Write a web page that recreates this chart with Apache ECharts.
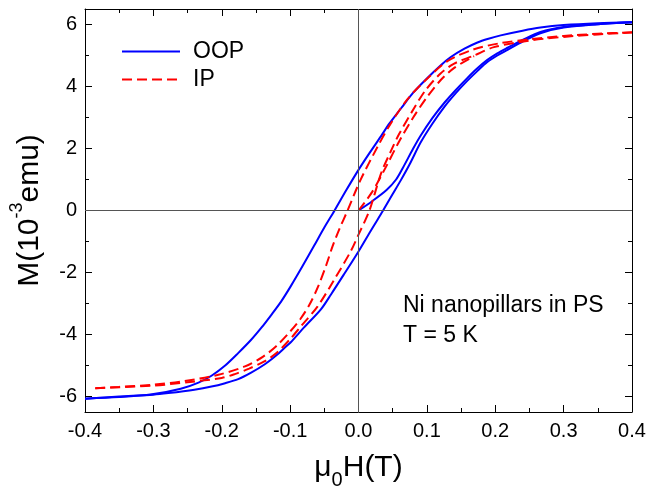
<!DOCTYPE html>
<html>
<head>
<meta charset="utf-8">
<script src="https://cdn.jsdelivr.net/npm/echarts@6/dist/echarts.min.js"></script>
<style>
  html, body { margin: 0; padding: 0; background: #fff; }
  #chart { width: 649px; height: 495px; }
</style>
</head>
<body>
<div id="chart"></div>
<script>
// field (T) / moment (1e-3 emu)
const oopDown = [[0.4,6.07],[0.35,6.04],[0.3,5.98],[0.266,5.9],[0.24,5.8],[0.208,5.65],[0.19,5.54],[0.174,5.42],[0.155,5.22],[0.135,4.95],[0.12,4.68],[0.1,4.26],[0.08,3.8],[0.062,3.29],[0.045,2.8],[0.033,2.4],[0.016,1.85],[0.0,1.31],[-0.018,0.65],[-0.035,0.0],[-0.05,-0.55],[-0.065,-1.14],[-0.082,-1.8],[-0.099,-2.44],[-0.113,-2.93],[-0.128,-3.38],[-0.142,-3.78],[-0.157,-4.17],[-0.176,-4.6],[-0.195,-5.0],[-0.215,-5.33],[-0.234,-5.55],[-0.26,-5.75],[-0.302,-5.93],[-0.35,-6.02],[-0.4,-6.07]];
const oopUp = [[-0.4,-6.07],[-0.35,-6.0],[-0.3,-5.94],[-0.278,-5.89],[-0.24,-5.78],[-0.215,-5.68],[-0.195,-5.57],[-0.176,-5.44],[-0.157,-5.23],[-0.137,-4.96],[-0.12,-4.67],[-0.108,-4.43],[-0.099,-4.25],[-0.08,-3.78],[-0.055,-3.19],[-0.04,-2.7],[-0.021,-2.05],[0.0,-1.32],[0.018,-0.65],[0.036,0.0],[0.05,0.53],[0.062,0.98],[0.075,1.5],[0.091,2.2],[0.108,2.8],[0.125,3.33],[0.142,3.78],[0.159,4.18],[0.173,4.48],[0.188,4.78],[0.203,5.0],[0.218,5.18],[0.24,5.45],[0.266,5.72],[0.3,5.9],[0.35,6.01],[0.4,6.07]];
const oopVirgin = [[0,0],[0.02,0.3],[0.041,0.66],[0.055,1.0],[0.065,1.38],[0.08,2.0],[0.091,2.42],[0.108,2.98],[0.125,3.46],[0.142,3.88],[0.159,4.27],[0.173,4.57],[0.188,4.85],[0.203,5.07],[0.218,5.25],[0.24,5.5],[0.266,5.76],[0.3,5.92],[0.35,6.01],[0.4,6.07]];

const ipDown = [[0.4,5.75],[0.35,5.7],[0.3,5.63],[0.25,5.52],[0.208,5.4],[0.169,5.2],[0.13,4.82],[0.098,4.2],[0.072,3.6],[0.047,2.8],[0.028,2.06],[0.003,0.99],[-0.016,0.0],[-0.028,-0.6],[-0.038,-1.16],[-0.047,-1.75],[-0.059,-2.45],[-0.072,-3.05],[-0.085,-3.5],[-0.099,-3.88],[-0.12,-4.37],[-0.14,-4.72],[-0.166,-5.03],[-0.205,-5.3],[-0.254,-5.5],[-0.3,-5.62],[-0.35,-5.69],[-0.385,-5.73]];
const ipUp = [[-0.385,-5.73],[-0.35,-5.7],[-0.3,-5.65],[-0.25,-5.54],[-0.2,-5.4],[-0.18,-5.27],[-0.16,-5.1],[-0.137,-4.86],[-0.12,-4.6],[-0.1,-4.15],[-0.084,-3.73],[-0.06,-3.1],[-0.036,-2.25],[-0.011,-1.3],[0.0,-0.78],[0.016,0.0],[0.033,1.2],[0.047,1.9],[0.059,2.45],[0.081,3.29],[0.098,3.88],[0.12,4.42],[0.14,4.74],[0.169,5.0],[0.198,5.27],[0.25,5.48],[0.3,5.6],[0.35,5.68],[0.4,5.74]];
const ipVirgin = [[0,0],[0.02,0.6],[0.04,1.4],[0.06,2.25],[0.08,3.0],[0.1,3.65],[0.12,4.2],[0.14,4.6],[0.169,4.98]];

const yMajor = [-6, -4, -2, 0, 2, 4, 6];
const yMinor = [-5, -3, -1, 1, 3, 5];

const FONT = 'Liberation Sans, Arial, sans-serif';
const chart = echarts.init(document.getElementById('chart'));

const xBase = (pos, labels) => ({
  type: 'value', position: pos, min: -0.4, max: 0.4, interval: 0.1,
  axisLine: { onZero: false, lineStyle: { color: '#000', width: 1 } },
  axisTick: { inside: true, length: 7, lineStyle: { color: '#000' } },
  minorTick: { show: true, splitNumber: 2, length: 4, lineStyle: { color: '#000' } },
  splitLine: { show: false },
  axisLabel: labels ? {
    margin: 9, color: '#000', fontSize: 20, fontFamily: FONT,
    formatter: v => v.toFixed(1)
  } : { show: false }
});

const yBase = (pos, ticks, len, line, labels) => ({
  type: 'value', position: pos, min: -6.5, max: 6.5,
  axisLine: { show: line, onZero: false, lineStyle: { color: '#000', width: 1 } },
  axisTick: { inside: true, length: len, customValues: ticks, lineStyle: { color: '#000' } },
  splitLine: { show: false },
  axisLabel: labels ? {
    margin: 8, color: '#000', fontSize: 20, fontFamily: FONT, customValues: yMajor
  } : { show: false }
});

const lineSeries = (name, data, color, dashed) => ({
  name, type: 'line', data, symbol: 'none', smooth: 0.3,
  lineStyle: { color, width: 2, type: dashed ? [10, 5] : 'solid' },
  itemStyle: { color },
  z: 3
});

const xMain = xBase('bottom', true);
xMain.name = '{a|μ}{sub|0}{a|H(T)}';
xMain.nameLocation = 'middle';
xMain.nameGap = 34;
xMain.nameTextStyle = {
  rich: {
    a: { fontSize: 30, lineHeight: 44, fontFamily: FONT, color: '#000' },
    sub: { fontSize: 20, lineHeight: 18, verticalAlign: 'bottom', fontFamily: FONT, color: '#000' }
  }
};

const yMain = yBase('left', yMajor, 7, true, true);
yMain.name = '{a|M(10}{sup|-3}{a|emu)}';
yMain.nameLocation = 'middle';
yMain.nameGap = 33;
yMain.nameTextStyle = {
  rich: {
    a: { fontSize: 30, lineHeight: 44, fontFamily: FONT, color: '#000' },
    sup: { fontSize: 18, lineHeight: 18, verticalAlign: 'top', fontFamily: FONT, color: '#000' }
  }
};

const zeroLines = {
  name: 'zero', type: 'line', data: [], z: 1,
  markLine: {
    silent: true, symbol: 'none', label: { show: false },
    lineStyle: { color: '#555', width: 1, type: 'solid' },
    data: [{ xAxis: 0 }, { yAxis: 0 }]
  }
};

const option = {
  animation: false,
  backgroundColor: '#fff',
  grid: { left: 84, right: 17, top: 9, bottom: 82 },
  legend: {
    data: ['OOP', 'IP'],
    orient: 'vertical', left: 116, top: 35,
    itemWidth: 58, itemHeight: 14, itemGap: 5,
    itemStyle: { opacity: 0 },
    textStyle: { fontSize: 23, fontFamily: FONT, color: '#000', padding: [0, 0, 0, 8] }
  },
  xAxis: [xMain, xBase('top', false)],
  yAxis: [
    yMain,
    yBase('left', yMinor, 4, false, false),
    yBase('right', yMajor, 7, true, false),
    yBase('right', yMinor, 4, false, false)
  ],
  graphic: [
    { type: 'text', left: 403, top: 294, style: { text: 'Ni nanopillars in PS', font: '23px ' + FONT, fill: '#000' } },
    { type: 'text', left: 403, top: 324, style: { text: 'T = 5 K', font: '23px ' + FONT, fill: '#000' } }
  ],
  series: [
    zeroLines,
    lineSeries('OOP', oopDown, '#0000ff', false),
    lineSeries('OOP', oopUp, '#0000ff', false),
    lineSeries('OOP', oopVirgin, '#0000ff', false),
    lineSeries('IP', ipDown, '#ff0000', true),
    lineSeries('IP', ipUp, '#ff0000', true),
    lineSeries('IP', ipVirgin, '#ff0000', true)
  ]
};

chart.setOption(option);
</script>
</body>
</html>
